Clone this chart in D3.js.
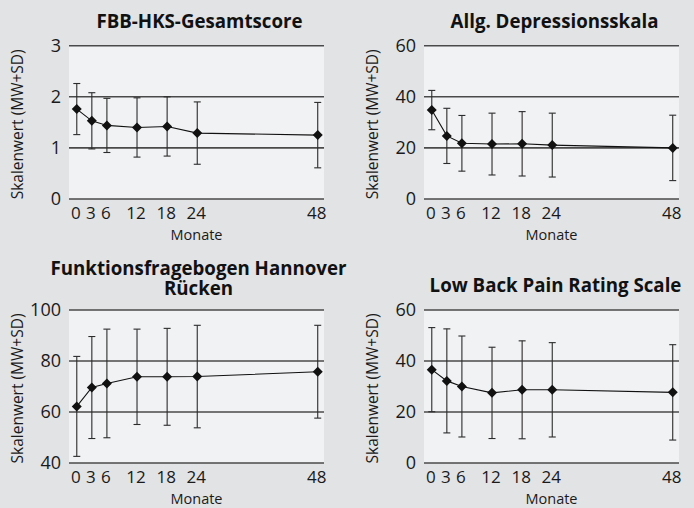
<!DOCTYPE html>
<html>
<head>
<meta charset="utf-8">
<script src="https://cdn.jsdelivr.net/npm/d3@7"></script>
<style>
  body { margin: 0; background: #e2e3e5; }
  svg { display: block; font-family: "Open Sans", sans-serif; }
</style>
</head>
<body>
<div id="chart"></div>
<script>
// data (MW = mean, SD = standard deviation)
var months = [0, 3, 6, 12, 18, 24, 48];

var fbbMean  = [1.76, 1.53, 1.44, 1.40, 1.42, 1.29, 1.25];
var fbbSD    = [0.50, 0.55, 0.53, 0.58, 0.58, 0.61, 0.64];
var fbbTicks = [0, 1, 2, 3];

var adsMean  = [34.8, 24.7, 21.8, 21.5, 21.6, 21.1, 20.0];
var adsSD    = [7.7, 10.8, 10.9, 12.1, 12.6, 12.5, 12.8];
var adsTicks = [0, 20, 40, 60];

var ffbhMean  = [62.2, 69.6, 71.2, 73.8, 73.8, 73.9, 75.8];
var ffbhSD    = [19.6, 20.0, 21.3, 18.7, 19.0, 20.1, 18.2];
var ffbhTicks = [40, 60, 80, 100];

var lbpMean  = [36.6, 32.2, 30.0, 27.5, 28.7, 28.7, 27.7];
var lbpSD    = [16.5, 20.4, 19.8, 17.9, 19.2, 18.5, 18.7];
var lbpTicks = [0, 20, 40, 60];

var W = 694, H = 508;
var PANEL_W = 347, PANEL_H = 254;

var svg = d3.select("#chart")
  .append("svg")
  .attr("width", W)
  .attr("height", H);

svg.append("rect")
  .attr("width", W)
  .attr("height", H)
  .attr("fill", "#e2e3e5");

function drawPanel(opts) {
  var margin = opts.margin;
  var width = PANEL_W - margin.left - margin.right,
      height = PANEL_H - margin.top - margin.bottom;

  var g = svg.append("g")
    .attr("transform", "translate(" + (opts.x + margin.left) + "," + (opts.y + margin.top) + ")");

  var x = d3.scaleLinear()
    .domain([-1.55, 49.25])
    .range([0, width]);

  var y = d3.scaleLinear()
    .domain(d3.extent(opts.ticks))
    .range([height, 0]);

  // plot background
  g.append("rect")
    .attr("x", 0)
    .attr("y", 0)
    .attr("width", width)
    .attr("height", height)
    .attr("fill", "#f1f2f4");

  // horizontal grid lines (bottom one is the axis line)
  g.append("g")
    .selectAll("line")
    .data(opts.ticks)
    .enter()
    .append("line")
    .attr("x1", 0)
    .attr("x2", width)
    .attr("y1", d => y(d))
    .attr("y2", d => y(d))
    .attr("stroke", "#4a4a4a")
    .attr("stroke-width", 1.6);

  // y tick labels
  g.append("g")
    .selectAll("text")
    .data(opts.ticks)
    .enter()
    .append("text")
    .attr("x", -8)
    .attr("y", d => y(d))
    .attr("dy", "0.36em")
    .attr("text-anchor", "end")
    .style("font-size", "18px")
    .attr("fill", "#1a1a1a")
    .text(d => d);

  // x tick labels
  g.append("g")
    .selectAll("text")
    .data(months)
    .enter()
    .append("text")
    .attr("x", d => x(d) - 1)
    .attr("y", height + 19.8)
    .attr("text-anchor", "middle")
    .style("font-size", "17px")
    .attr("fill", "#1a1a1a")
    .text(d => d);

  // axis titles
  g.append("text")
    .attr("x", width / 2)
    .attr("y", height + opts.monateY)
    .attr("text-anchor", "middle")
    .style("font-size", "14.5px")
    .attr("fill", "#1a1a1a")
    .text("Monate");

  g.append("text")
    .attr("transform", "translate(-51," + (height / 2 + 2) + ")rotate(-90)")
    .attr("dy", "0.35em")
    .attr("text-anchor", "middle")
    .style("font-size", "15.5px")
    .attr("fill", "#1a1a1a")
    .text("Skalenwert (MW+SD)");

  // panel title
  var title = g.append("text")
    .attr("x", width / 2 + opts.titleShift)
    .attr("y", opts.titleY)
    .attr("text-anchor", "middle")
    .style("font-size", "18.7px")
    .style("font-weight", "bold")
    .attr("fill", "#111");
  opts.title.forEach(function(line, i) {
    title.append("tspan")
      .attr("x", width / 2 + opts.titleShift)
      .attr("dy", i === 0 ? 0 : 20.3)
      .text(line);
  });

  var points = months.map((m, i) => ({m: m, mean: opts.mean[i], sd: opts.sd[i]}));

  // error bars
  var err = g.append("g")
    .attr("stroke", "#2b2b2b")
    .attr("stroke-width", 1.1);
  err.selectAll(".stem")
    .data(points)
    .enter()
    .append("line")
    .attr("x1", d => x(d.m))
    .attr("x2", d => x(d.m))
    .attr("y1", d => y(d.mean - d.sd))
    .attr("y2", d => y(d.mean + d.sd));
  err.selectAll(".capTop")
    .data(points)
    .enter()
    .append("line")
    .attr("x1", d => x(d.m) - 3.5)
    .attr("x2", d => x(d.m) + 3.5)
    .attr("y1", d => y(d.mean + d.sd))
    .attr("y2", d => y(d.mean + d.sd));
  err.selectAll(".capBottom")
    .data(points)
    .enter()
    .append("line")
    .attr("x1", d => x(d.m) - 3.5)
    .attr("x2", d => x(d.m) + 3.5)
    .attr("y1", d => y(d.mean - d.sd))
    .attr("y2", d => y(d.mean - d.sd));

  // mean line
  g.append("path")
    .datum(points)
    .attr("fill", "none")
    .attr("stroke", "#111")
    .attr("stroke-width", 1.1)
    .attr("d", d3.line().x(d => x(d.m)).y(d => y(d.mean)));

  // diamond markers
  g.append("g")
    .selectAll("path")
    .data(points)
    .enter()
    .append("path")
    .attr("transform", d => "translate(" + x(d.m) + "," + y(d.mean) + ")rotate(45)")
    .attr("d", d3.symbol().type(d3.symbolSquare).size(50))
    .attr("fill", "#111");
}

drawPanel({
  x: 0, y: 0,
  margin: {top: 45.7, right: 23, bottom: 55, left: 69},
  ticks: fbbTicks, mean: fbbMean, sd: fbbSD, monateY: 41.5,
  title: ["FBB-HKS-Gesamtscore"], titleY: -18, titleShift: 3
});

drawPanel({
  x: PANEL_W, y: 0,
  margin: {top: 45.7, right: 15, bottom: 55, left: 77},
  ticks: adsTicks, mean: adsMean, sd: adsSD, monateY: 41.5,
  title: ["Allg. Depressionsskala"], titleY: -17.5, titleShift: 3
});

drawPanel({
  x: 0, y: PANEL_H,
  margin: {top: 56, right: 23, bottom: 45, left: 69},
  ticks: ffbhTicks, mean: ffbhMean, sd: ffbhSD, monateY: 40.5,
  title: ["Funktionsfragebogen Hannover", "Rücken"], titleY: -35.5, titleShift: 2
});

drawPanel({
  x: PANEL_W, y: PANEL_H,
  margin: {top: 56, right: 15, bottom: 45, left: 77},
  ticks: lbpTicks, mean: lbpMean, sd: lbpSD, monateY: 40.5,
  title: ["Low Back Pain Rating Scale"], titleY: -18, titleShift: 4
});
</script>
</body>
</html>
